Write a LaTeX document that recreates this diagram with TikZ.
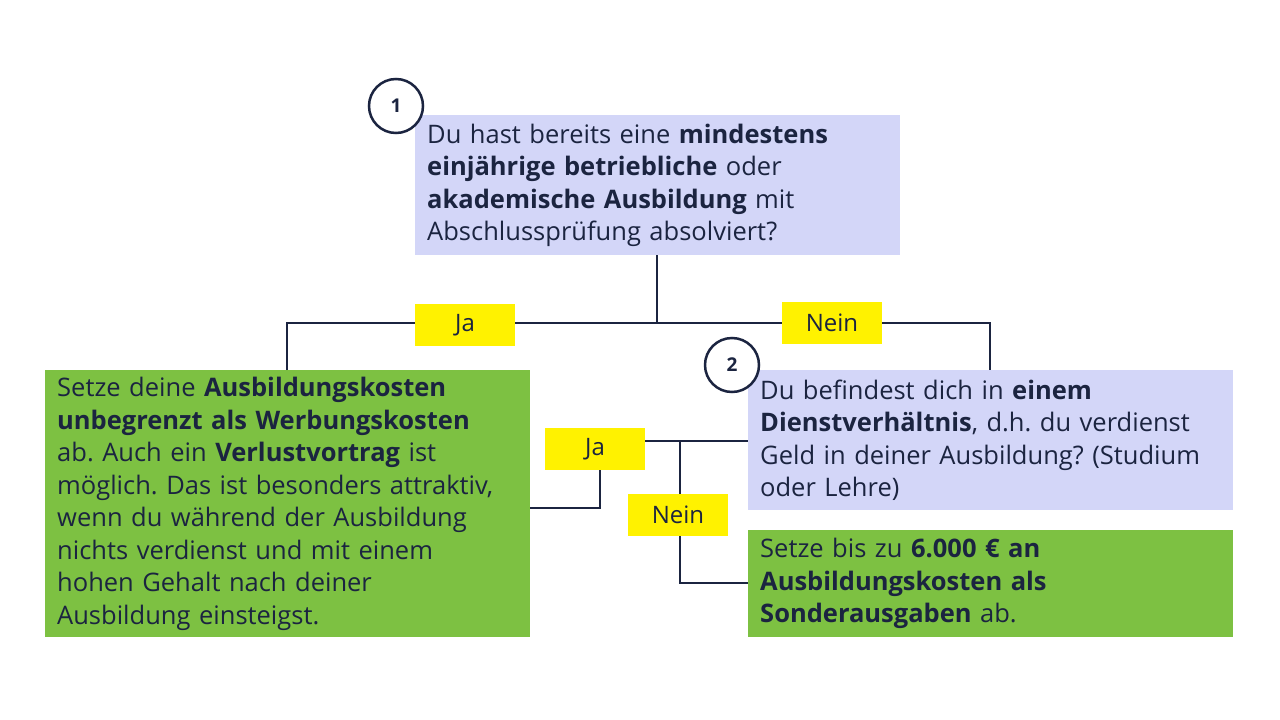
\documentclass[tikz,border=0pt]{standalone}
\usepackage{fontspec}
\setmainfont{Open Sans}
\begin{document}
\frenchspacing
\definecolor{navy}{HTML}{1B2440}
\definecolor{lav}{HTML}{D3D6F8}
\definecolor{grn}{HTML}{7DC142}
\definecolor{yel}{HTML}{FFF200}
\begin{tikzpicture}[x=1pt,y=-1pt,
 box/.style={anchor=north west,inner xsep=12pt,inner ysep=6pt,align=left,text=navy,font=\fontsize{25.5}{32.5}\selectfont},
 lbl/.style={fill=yel,text=navy,font=\fontsize{24}{26}\selectfont,minimum width=100pt,minimum height=42pt,inner sep=0pt},
 num/.style={circle,draw=navy,line width=2.5pt,fill=white,minimum size=54pt,inner sep=0pt,text=navy,font=\bfseries\fontsize{19}{20}\selectfont},
 ln/.style={draw=navy,line width=2.5pt}]
\useasboundingbox[fill=white] (0,0) rectangle (1280,720);
% nodes
\node[box,fill=lav,minimum width=485pt,minimum height=140pt,text width=461pt] (q1) at (415,115) {Du hast bereits eine \textbf{mindestens}\\\textbf{einjährige betriebliche} oder\\\textbf{akademische Ausbildung} mit\\Abschlussprüfung absolviert?};
\node[box,fill=grn,minimum width=485pt,minimum height=267pt,text width=461pt] (g1) at (45,370) {Setze deine \textbf{Ausbildungskosten}\\\textbf{unbegrenzt als Werbungskosten}\\ab. Auch ein \textbf{Verlustvortrag} ist\\möglich. Das ist besonders attraktiv,\\wenn du während der Ausbildung\\nichts verdienst und mit einem\\hohen Gehalt nach deiner\\Ausbildung einsteigst.};
\node[box,fill=lav,minimum width=485pt,minimum height=140pt,text width=461pt] (q2) at (748,370) {Du befindest dich in \textbf{einem}\\\textbf{Dienstverhältnis}, d.h. du verdienst\\Geld in deiner Ausbildung? (Studium\\oder Lehre)};
\node[box,fill=grn,minimum width=485pt,minimum height=107pt,text width=461pt] (g2) at (748,530) {Setze bis zu \textbf{6.000 € an}\\\textbf{Ausbildungskosten als}\\\textbf{Sonderausgaben} ab.};
% connectors
\coordinate (s1) at (657,323);
\coordinate (cl) at (287,323);
\coordinate (cr) at (990,323);
\draw[ln] (q1.south -| s1) -- (s1);
\draw[ln] (cl |- g1.north) -- (cl) -- (cr) -- (cr |- q2.north);
\coordinate (j2) at (600,441);
\coordinate (jb) at (600,508);
\coordinate (v) at (680,441);
\coordinate (vb) at (680,583);
\draw[ln] (j2) -- (q2.west |- j2);
\draw[ln] (v) -- (vb) -- (g2.west |- vb);
\node[lbl] (ja1) at (465,325) {Ja};
\node[lbl] (ne1) at (832,323) {Nein};
\node[lbl] (ja2) at (595,449) {Ja};
\draw[ln] (ja2.south -| jb) -- (jb) -- (g1.east |- jb);
\node[lbl] (ne2) at (678,515) {Nein};
\node[num] (n1) at (396,106) {1};
\node[num] (n2) at (732,365) {2};
\end{tikzpicture}
\end{document}
